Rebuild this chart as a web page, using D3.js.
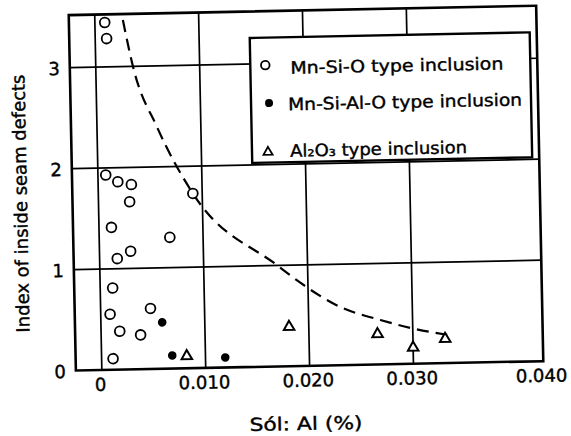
<!DOCTYPE html>
<html>
<head>
<meta charset="utf-8">
<script src="https://cdn.jsdelivr.net/npm/d3@7"></script>
<style>
  html, body { margin: 0; padding: 0; background: #fff; }
  svg { display: block; }
  text { font-family: "DejaVu Sans", sans-serif; fill: #000; stroke: #000; stroke-width: 0.4px; }
</style>
</head>
<body>
<svg id="chart" width="571" height="436"></svg>
<script>
// Sol. Al content (%) vs. index of inside seam defects, by inclusion type
const mnSiO_al    = [0.00095, 0.0011, 0.00075, 0.0019, 0.0032, 0.0030, 0.0012, 0.0068, 0.0030, 0.0017, 0.0091, 0.0012, 0.0048, 0.0009, 0.0018, 0.0038, 0.0011];
const mnSiO_index = [3.44,    3.28,   1.93,    1.86,   1.83,   1.66,   1.41,   1.30,   1.17,   1.10,   1.73,   0.81,   0.60,   0.55,   0.38,   0.34,   0.11];

const mnSiAlO_al    = [0.0059, 0.0068, 0.0119];
const mnSiAlO_index = [0.46,   0.13,   0.10];

const al2o3_al    = [0.0082, 0.0181, 0.0266, 0.0300, 0.0331];
const al2o3_index = [0.12,   0.39,   0.30,   0.16,   0.24];

// Dashed boundary curve
const curve_al    = [0.0027, 0.0036, 0.0058, 0.0091, 0.0171, 0.0192, 0.0230, 0.0269, 0.0300, 0.0333];
const curve_index = [3.46,   2.99,   2.39,   1.73,   1.00,   0.83,   0.58,   0.44,   0.35,   0.28];

const xTicks = [0, 0.010, 0.020, 0.030];
const xTickLabels = ["0", "0.010", "0.020", "0.030"];
const xEndLabel = "0.040";
const yTicks = [0, 1, 2, 3];
const yTickLabels = ["0", "1", "2", "3"];

const legendLabels = ["Mn-Si-O type inclusion", "Mn-Si-Al-O type inclusion", "Al\u2082O\u2083 type inclusion"];

const svg = d3.select("#chart");
const root = svg.append("g").attr("transform", "rotate(-1.15, 300, 200)");

const x = d3.scaleLinear().domain([-0.0025, 0.0425]).range([72.5, 540]);
const y = d3.scaleLinear().domain([0, 3.52]).range([366, 10.5]);
const [x0, x1] = x.range();
const [y0, y1] = y.range();

// Grid lines
root.append("g").selectAll("line").data(xTicks).join("line")
  .attr("x1", d => x(d)).attr("x2", d => x(d))
  .attr("y1", y0).attr("y2", y1)
  .attr("stroke", "#000").attr("stroke-width", 1.7);
root.append("g").selectAll("line").data(yTicks.filter(d => d > 0)).join("line")
  .attr("x1", x0).attr("x2", x1)
  .attr("y1", d => y(d)).attr("y2", d => y(d))
  .attr("stroke", "#000").attr("stroke-width", 1.7);

// Frame
root.append("rect")
  .attr("x", x0).attr("y", y1)
  .attr("width", x1 - x0).attr("height", y0 - y1)
  .attr("fill", "none").attr("stroke", "#000").attr("stroke-width", 2.6);

// Axis tick labels
const xAxis = d3.axisBottom(x).tickValues(xTicks)
  .tickFormat((d, i) => xTickLabels[i]).tickSize(0).tickPadding(0);
const gx = root.append("g").attr("transform", `translate(-2,${y0 + 8})`).call(xAxis);
gx.select(".domain").remove();
gx.selectAll("text").attr("font-size", 18).attr("font-family", "DejaVu Sans").attr("dy", "0.71em");
root.append("text")
  .attr("x", x1 - 2).attr("y", y0 + 8).attr("dy", "0.71em")
  .attr("text-anchor", "middle").attr("font-size", 18)
  .text(xEndLabel);

const yAxis = d3.axisLeft(y).tickValues(yTicks)
  .tickFormat((d, i) => yTickLabels[i]).tickSize(0).tickPadding(0);
const gy = root.append("g").attr("transform", `translate(${x0 - 10},1)`).call(yAxis);
gy.select(".domain").remove();
gy.selectAll("text").attr("font-size", 18).attr("font-family", "DejaVu Sans")
  .attr("text-anchor", "end");

// Axis titles
root.append("text")
  .attr("x", 301.5).attr("y", 430)
  .attr("text-anchor", "middle").attr("font-size", 18)
  .attr("textLength", 113).attr("lengthAdjust", "spacingAndGlyphs")
  .text("Sól: Al (%)");
root.append("text")
  .attr("transform", "translate(27,198) rotate(-90)")
  .attr("text-anchor", "middle").attr("font-size", 18)
  .attr("textLength", 258).attr("lengthAdjust", "spacingAndGlyphs")
  .text("Index of inside seam defects");

// Boundary curve
const line = d3.line().x(d => x(d[0])).y(d => y(d[1])).curve(d3.curveMonotoneX);
root.append("path")
  .attr("d", line(d3.zip(curve_al, curve_index)))
  .attr("fill", "none").attr("stroke", "#000")
  .attr("stroke-width", 2.2).attr("stroke-dasharray", "12,7");

// Markers
const tri = d3.symbol().type(d3.symbolTriangle).size(48);

root.append("g").selectAll("circle").data(d3.zip(mnSiO_al, mnSiO_index)).join("circle")
  .attr("cx", d => x(d[0])).attr("cy", d => y(d[1])).attr("r", 4.9)
  .attr("fill", "#fff").attr("stroke", "#000").attr("stroke-width", 1.8);

root.append("g").selectAll("circle").data(d3.zip(mnSiAlO_al, mnSiAlO_index)).join("circle")
  .attr("cx", d => x(d[0])).attr("cy", d => y(d[1])).attr("r", 4.3)
  .attr("fill", "#000");

root.append("g").selectAll("path").data(d3.zip(al2o3_al, al2o3_index)).join("path")
  .attr("d", tri)
  .attr("transform", d => `translate(${x(d[0])},${y(d[1])})`)
  .attr("fill", "#fff").attr("stroke", "#000").attr("stroke-width", 2);

// Legend
const lg = root.append("g");
lg.append("rect")
  .attr("x", 253).attr("y", 37).attr("width", 280).attr("height", 125)
  .attr("fill", "#fff").attr("stroke", "#000").attr("stroke-width", 2.4);

const legendRows = [
  { mx: 268, my: 64.5, tx: 293, ty: 73.5, w: 213 },
  { mx: 271, my: 102.5, tx: 290, ty: 110, w: 234 },
  { mx: 269, my: 151.5, tx: 291, ty: 156.5, w: 177 }
];
lg.append("circle").attr("cx", legendRows[0].mx).attr("cy", legendRows[0].my).attr("r", 4.3)
  .attr("fill", "#fff").attr("stroke", "#000").attr("stroke-width", 1.8);
lg.append("circle").attr("cx", legendRows[1].mx).attr("cy", legendRows[1].my).attr("r", 4)
  .attr("fill", "#000");
lg.append("path").attr("d", d3.symbol().type(d3.symbolTriangle).size(36))
  .attr("transform", `translate(${legendRows[2].mx},${legendRows[2].my})`)
  .attr("fill", "#fff").attr("stroke", "#000").attr("stroke-width", 1.8);

lg.selectAll("text.lab").data(legendLabels).join("text")
  .attr("class", "lab")
  .attr("x", (d, i) => legendRows[i].tx).attr("y", (d, i) => legendRows[i].ty)
  .attr("font-size", 17)
  .attr("textLength", (d, i) => legendRows[i].w).attr("lengthAdjust", "spacingAndGlyphs")
  .text(d => d);
</script>
</body>
</html>
